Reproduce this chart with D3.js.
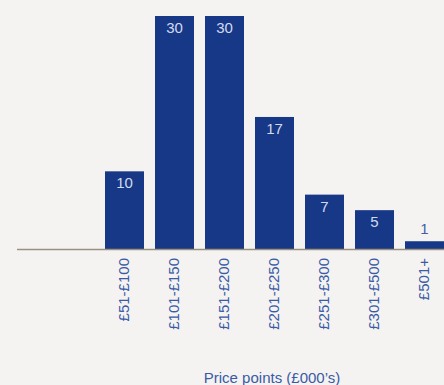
<!DOCTYPE html>
<html>
<head>
<meta charset="utf-8">
<script src="https://d3js.org/d3.v7.min.js"></script>
<style>
  html, body { margin: 0; padding: 0; background: #f4f3f1; }
  svg { display: block; font-family: "Liberation Sans", Arial, sans-serif; }
</style>
</head>
<body>
<div id="chart"></div>
<script>
const categories = ["£51-£100", "£101-£150", "£151-£200", "£201-£250", "£251-£300", "£301-£500", "£501+"];
const values = [10, 30, 30, 17, 7, 5, 1];
const axisTitle = "Price points (£000’s)";

const width = 444, height = 385;
const baseY = 249;

const svg = d3.select("#chart")
    .append("svg")
    .attr("width", width)
    .attr("height", height);

svg.append("rect")
    .attr("width", width)
    .attr("height", height)
    .attr("fill", "#f4f3f1");

const x = d3.scaleBand()
    .domain(categories)
    .range([99.5, 449.5])
    .paddingInner(0.22)
    .paddingOuter(0.11);

const y = d3.scaleLinear()
    .domain([0, 30])
    .range([baseY, 16]);

// bars
svg.selectAll("rect.bar")
    .data(values)
    .enter()
    .append("rect")
    .attr("class", "bar")
    .attr("x", (d, i) => x(categories[i]))
    .attr("y", d => y(d))
    .attr("width", x.bandwidth())
    .attr("height", d => baseY - y(d))
    .attr("fill", "#163887");

// value labels: inside the bar, above it when the bar is too short
svg.selectAll("text.val")
    .data(values)
    .enter()
    .append("text")
    .attr("class", "val")
    .attr("x", (d, i) => x(categories[i]) + x.bandwidth() / 2)
    .attr("y", d => (baseY - y(d)) > 25 ? y(d) + 17 : y(d) - 7)
    .attr("text-anchor", "middle")
    .attr("font-size", 15)
    .attr("fill", d => (baseY - y(d)) > 25 ? "#d3daee" : "#3f60a8")
    .text(d => d);

// baseline
svg.append("line")
    .attr("x1", 17)
    .attr("x2", width)
    .attr("y1", baseY + 0.5)
    .attr("y2", baseY + 0.5)
    .attr("stroke", "#9a8f80")
    .attr("stroke-width", 1.6);

// rotated category labels
svg.selectAll("text.cat")
    .data(categories)
    .enter()
    .append("text")
    .attr("class", "cat")
    .attr("transform", d => `translate(${x(d) + x.bandwidth() / 2 + 4},${baseY + 9}) rotate(-90)`)
    .attr("text-anchor", "end")
    .attr("font-size", 15)
    .attr("fill", "#3a5aa6")
    .text(d => d);

// axis title
svg.append("text")
    .attr("x", 272)
    .attr("y", 383)
    .attr("text-anchor", "middle")
    .attr("font-size", 15)
    .attr("fill", "#3a5aa6")
    .text(axisTitle);
</script>
</body>
</html>
